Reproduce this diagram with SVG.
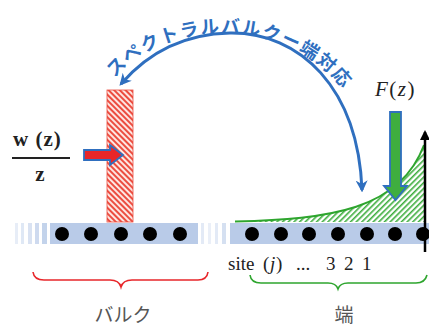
<svg xmlns="http://www.w3.org/2000/svg" width="429" height="330" viewBox="0 0 429 330">
<style>
.serif{font-family:"Liberation Serif","DejaVu Serif",serif;fill:#222}
.jp{font-family:"Noto Sans CJK JP","Noto Sans",sans-serif}
.dot{fill:#000}
.band{fill:#b9cbe8}
</style>
<defs>
<pattern id="redHatch" patternUnits="userSpaceOnUse" width="4" height="4" patternTransform="rotate(-45)">
<rect width="4" height="4" fill="#fde6e2"/>
<rect width="2" height="4" fill="#ec4d40"/>
</pattern>
<pattern id="greenHatch" patternUnits="userSpaceOnUse" width="4" height="4" patternTransform="rotate(45)">
<rect width="4" height="4" fill="#ffffff"/>
<rect width="1.6" height="4" fill="#3fae3f"/>
</pattern>
<marker id="blueHead" viewBox="0 0 10 10" refX="8" refY="5" markerWidth="4" markerHeight="4" orient="auto-start-reverse" markerUnits="strokeWidth">
<path d="M0,0 L10,5 L0,10 L3,5 Z" fill="#2f6fbf"/>
</marker>
<marker id="blackHead" viewBox="0 0 10 10" refX="8" refY="5" markerWidth="4" markerHeight="4" orient="auto" markerUnits="strokeWidth">
<path d="M0,0 L10,5 L0,10 Z" fill="#000"/>
</marker>
<path id="textArc" d="M 115 78 C 158 22 296 4 356 108"/>
</defs>
<rect width="429" height="330" fill="#ffffff"/>

<g id="chain">
<g id="band-left-fade" class="band">
<rect x="15" y="223" width="3" height="21" opacity="0.35"/>
<rect x="21" y="223" width="3" height="21" opacity="0.45"/>
<rect x="28" y="223" width="4" height="21" opacity="0.55"/>
<rect x="35" y="223" width="4" height="21" opacity="0.7"/>
<rect x="42" y="223" width="5" height="21" opacity="0.85"/>
</g>
<rect class="band" x="50" y="223" width="148" height="21"/>
<g id="band-mid-fade" class="band">
<rect x="201" y="223" width="3" height="21" opacity="0.4"/>
<rect x="208" y="223" width="3" height="21" opacity="0.3"/>
<rect x="215" y="223" width="3" height="21" opacity="0.4"/>
<rect x="222" y="223" width="4" height="21" opacity="0.6"/>
</g>
<rect class="band" x="230" y="223" width="199" height="21"/>
</g>

<g id="bulk-barrier">
<rect x="107" y="90" width="26" height="132" fill="url(#redHatch)" stroke="#ec4d40" stroke-width="0.8"/>
</g>

<g id="edge-profile">
<path d="M 235 221.5 C 330 219 400 210 424 145 L 424 222 L 235 222 Z" fill="url(#greenHatch)"/>
<path d="M 235 221.5 C 330 219 400 210 424 145" fill="none" stroke="#2ea52e" stroke-width="2"/>
</g>

<g id="sites-bulk">
<circle class="dot" cx="62" cy="234" r="7"/>
<circle class="dot" cx="91" cy="234" r="7"/>
<circle class="dot" cx="121" cy="234" r="7"/>
<circle class="dot" cx="150" cy="234" r="7"/>
<circle class="dot" cx="180" cy="234" r="7"/>
</g>
<g id="sites-edge">
<circle class="dot" cx="252" cy="234" r="7"/>
<circle class="dot" cx="281" cy="234" r="7"/>
<circle class="dot" cx="309" cy="234" r="7"/>
<circle class="dot" cx="338" cy="234" r="7"/>
<circle class="dot" cx="367" cy="234" r="7"/>
<circle class="dot" cx="395" cy="234" r="7"/>
<circle class="dot" cx="423" cy="234" r="7"/>
</g>

<g id="connectors">
<path id="bulk-edge-arc" d="M 362 190 C 358 88 300 32 230 33 C 182 34 146 55 121 84" fill="none" stroke="#2f6fbf" stroke-width="3" marker-start="url(#blueHead)" marker-end="url(#blueHead)"/>
<line id="axis" x1="425" y1="252" x2="425" y2="132" stroke="#000" stroke-width="2.5" marker-end="url(#blackHead)"/>
<path id="w-arrow" d="M 84 150 L 110 150 L 110 145 L 123 155 L 110 165 L 110 160 L 84 160 Z" fill="#e8262a" stroke="#2f6fbf" stroke-width="1.8" stroke-linejoin="miter"/>
<path id="F-arrow" d="M 390 112 L 401 112 L 401 186 L 407 186 L 395.5 200 L 384 186 L 390 186 Z" fill="#3fae3f" stroke="#2f6fbf" stroke-width="1.8"/>
</g>

<g id="arc-label">
<text class="jp" font-size="18.5" font-weight="bold" fill="#2f6fbf" letter-spacing="1.5"><textPath href="#textArc" startOffset="0">スペクトラルバルクー端対応</textPath></text>
</g>

<g id="w-label">
<text class="serif" x="13" y="146" font-size="21" font-weight="bold" letter-spacing="1">w (z)</text>
<line x1="12" y1="158" x2="70" y2="158" stroke="#222" stroke-width="2"/>
<text class="serif" x="40" y="181" font-size="21" font-weight="bold" text-anchor="middle">z</text>
</g>

<g id="F-label">
<text class="serif" x="375" y="96" font-size="21" font-style="italic" letter-spacing="1.5">F<tspan font-style="normal">(</tspan>z<tspan font-style="normal">)</tspan></text>
</g>

<g id="site-label">
<text class="serif" y="270" font-size="19"><tspan x="228">site</tspan><tspan x="263">(</tspan><tspan x="270" font-style="italic">j</tspan><tspan x="276">)</tspan><tspan x="296">...</tspan><tspan x="326">3</tspan><tspan x="344">2</tspan><tspan x="362">1</tspan></text>
</g>

<g id="bulk-brace">
<path d="M 33 272 Q 34 280 44 280 L 110 280 Q 119 280 121 287 Q 123 280 132 280 L 198 280 Q 207 280 208 272" fill="none" stroke="#e8262a" stroke-width="1.6"/>
<text class="jp" x="123" y="322" font-size="19" fill="#555" text-anchor="middle">バルク</text>
</g>

<g id="edge-brace">
<path d="M 250 275 Q 251 283 261 283 L 328 283 Q 336 283 338 289 Q 340 283 348 283 L 416 283 Q 425 283 427 275" fill="none" stroke="#2ea52e" stroke-width="1.6"/>
<text class="jp" x="344" y="322" font-size="19" fill="#555" text-anchor="middle">端</text>
</g>
</svg>
